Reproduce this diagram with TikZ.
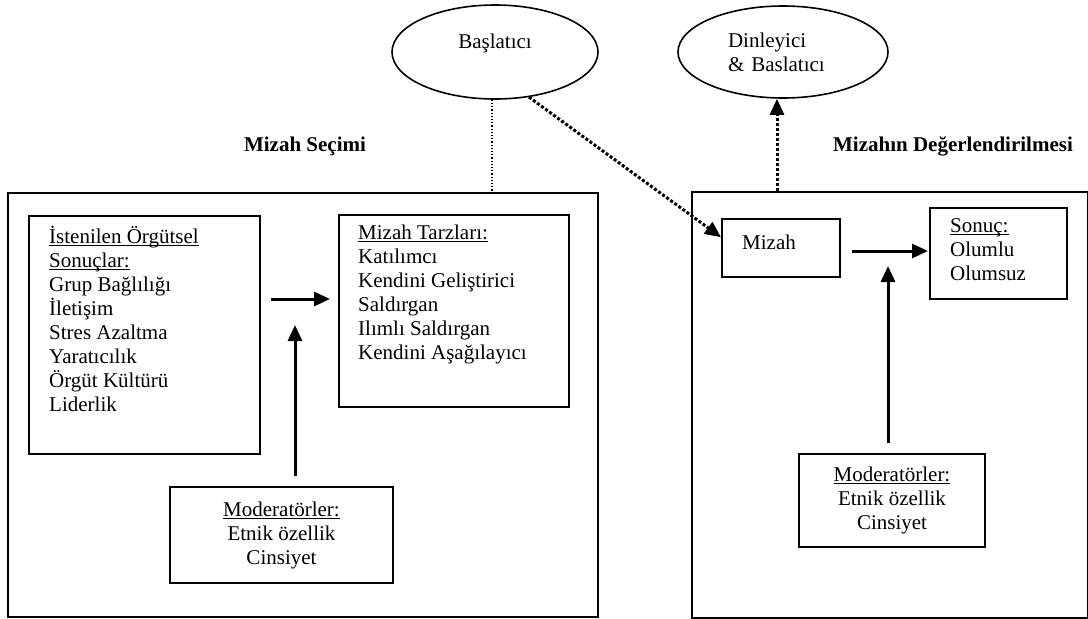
\documentclass[tikz,border=0pt]{standalone}
\usepackage{fontspec}
\setmainfont{Liberation Serif}
\usetikzlibrary{shapes.geometric, arrows.meta}
\newcommand\undertext[1]{\setbox0\hbox{#1}\rlap{\rule[-2.5pt]{\wd0}{0.9pt}}\box0}

\begin{document}
\begin{tikzpicture}[x = 1pt, y = -1pt,
                    box node/.style = {draw, rectangle, line width = 1.6pt, anchor = north west, inner sep = 0pt},
                    text node/.style = {anchor = north west, inner sep = 0pt, align = left, font = \fontsize{21}{24}\selectfont, execute at begin node = \rule{0pt}{20pt}},
                    mod node/.style = {draw, rectangle, line width = 1.6pt, align = center, inner sep = 0pt, font = \fontsize{21}{24}\selectfont},
                    oval node/.style = {draw, ellipse, line width = 1.6pt, inner sep = 0pt, align = left, font = \fontsize{21}{24}\selectfont},
                    title node/.style = {font = \fontsize{21}{24}\selectfont\bfseries},
                    solid arrow/.style = {-{Triangle[length = 16pt, width = 14pt]}, line width = 3pt},
                    dot arrow/.style = {-{Triangle[length = 16pt, width = 14pt]}, line width = 3pt, dash pattern = on 3pt off 2pt}]
                    \useasboundingbox (0, 0) rectangle (1088, 619);
                    \node at (7, 192) [box node, minimum width = 590pt, minimum height = 424pt] (frameL) {};
                    \node at (691, 191) [box node, minimum width = 396pt, minimum height = 426pt] (frameR) {};
                    \node at (305, 146) [title node] (selTitle) {Mizah Seçimi};
                    \node at (953, 146) [title node] (evalTitle) {Mizahın Değerlendirilmesi};
                    \node at (495, 52) [oval node, minimum width = 206pt, minimum height = 94pt, text depth = 21pt] (start) {Başlatıcı};
                    \node at (783, 52) [oval node, minimum width = 210pt, minimum height = 92pt, text width = 110pt] (listener) {Dinleyici\\\& Baslatıcı};

                    \node at (28, 215) [box node, minimum width = 231pt, minimum height = 238pt] (goals) {};
                    \node at (goals.north west) [text node, xshift = 21pt, yshift = -11pt] (goalsText) {\undertext{İstenilen Örgütsel}\\\undertext{Sonuçlar:}\\Grup Bağlılığı\\İletişim\\Stres Azaltma\\Yaratıcılık\\Örgüt Kültürü\\Liderlik};
                    \node at (338, 214) [box node, minimum width = 230pt, minimum height = 192pt] (styles) {};
                    \node at (styles.north west) [text node, xshift = 20pt, yshift = -11pt] (stylesText) {\undertext{Mizah Tarzları:}\\Katılımcı\\Kendini Geliştirici\\Saldırgan\\Ilımlı Saldırgan\\Kendini Aşağılayıcı};
                    \node at (281.5, 535) [mod node, minimum width = 223pt, minimum height = 96pt] (modL) {\undertext{Moderatörler:}\\Etnik özellik\\Cinsiyet};

                    \node at (721, 218) [box node, minimum width = 118pt, minimum height = 58pt] (humor) {};
                    \node at (humor.north west) [text node, xshift = 21pt, yshift = -11pt] (humorText) {Mizah};
                    \node at (929, 207) [box node, minimum width = 137pt, minimum height = 91pt] (result) {};
                    \node at (result.north west) [text node, xshift = 21pt, yshift = -11pt] (resultText) {\undertext{Sonuç:}\\Olumlu\\Olumsuz};
                    \node at (892, 500.5) [mod node, minimum width = 186pt, minimum height = 93pt] (modR) {\undertext{Moderatörler:}\\Etnik özellik\\Cinsiyet};

                    \coordinate (arrL1) at (271, 299);
                    \coordinate (arrL2) at (330, 299);
                    \coordinate (modArrL1) at (295, 476);
                    \coordinate (modArrL2) at (295, 325);
                    \coordinate (arrR1) at (852, 251);
                    \coordinate (arrR2) at (928, 251);
                    \coordinate (modArrR1) at (888, 443);
                    \coordinate (modArrR2) at (888, 266);
                    \coordinate (evalTop) at (777, 191);
                    \coordinate (selTop) at (492, 192);

                    \draw [solid arrow] (arrL1) -- (arrL2);
                    \draw [solid arrow] (modArrL1) -- (modArrL2);
                    \draw [solid arrow] (arrR1) -- (arrR2);
                    \draw [solid arrow] (modArrR1) -- (modArrR2);
                    \draw [dotted, line width = 1.2pt] (selTop |- start.south) -- (selTop);
                    \draw [dot arrow] (start.-53) -- (humor.170);
                    \draw [dot arrow] (evalTop) -- (evalTop |- listener.south);
                \end{tikzpicture}
\end{document}
